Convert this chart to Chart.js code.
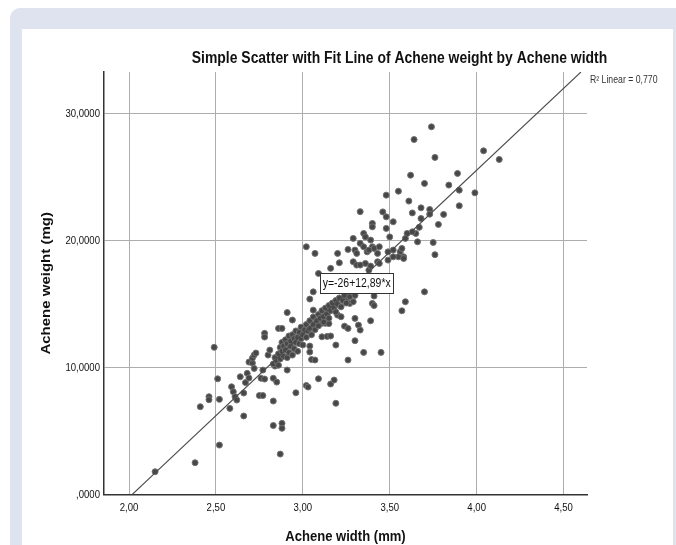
<!DOCTYPE html>
<html>
<head>
<meta charset="utf-8">
<script src="https://cdn.jsdelivr.net/npm/chart.js@4.4.1/dist/chart.umd.min.js"></script>
<style>
  html, body { margin: 0; padding: 0; background: #fff; }
  body { width: 676px; height: 545px; position: relative; overflow: hidden; }
  #frame { position: absolute; left: 10px; top: 8px; right: 0; bottom: 0; background: #dfe2ef; border-top-left-radius: 10px; }
  #panel { position: absolute; left: 22px; top: 29px; width: 651px; bottom: 0; background: #fff; }
  #chart { position: absolute; left: 0; top: 0; }
</style>
</head>
<body>
<div id="frame"></div>
<div id="panel"></div>
<canvas id="chart" width="676" height="545"></canvas>
<script>
// achene width (mm) and weight (mg)
const achWidth = [
  2.15, 2.38, 2.52, 2.41, 2.46, 2.46, 2.52, 2.51, 2.49, 2.58, 2.59, 2.60, 2.61, 2.62, 2.66, 2.66,
  2.64, 2.67, 2.68, 2.69, 2.69, 2.71, 2.71, 2.72, 2.73, 2.72, 2.77, 2.76, 2.78, 2.75, 2.77, 2.78,
  2.78, 2.80, 2.81, 2.83, 2.85, 2.83, 2.83, 2.88, 2.88, 2.87, 2.86, 2.88, 2.91, 2.84, 2.91, 2.96,
  3.02, 3.03, 3.09, 3.16, 3.18, 3.19, 3.26, 3.04, 3.04, 3.05, 3.07, 3.11, 3.14, 3.16, 3.19, 3.24,
  3.26, 3.30, 3.32, 3.33, 3.30, 3.35, 3.45, 3.39, 3.40, 3.41, 3.41, 3.57, 3.59, 3.70, 3.11, 3.13,
  3.15, 3.09, 3.06, 3.04, 3.02, 3.07, 3.20, 3.21, 3.16, 3.26, 3.33, 3.29, 3.35, 3.36, 3.39, 3.40,
  3.41, 3.44, 3.52, 3.56, 3.58, 3.40, 3.40, 3.46, 3.48, 3.52, 3.48, 3.50, 3.60, 3.59, 3.65, 3.66,
  3.75, 3.76, 3.48, 3.55, 3.61, 3.62, 3.64, 3.74, 3.76, 3.70, 3.84, 3.89, 3.90, 3.99, 4.04, 4.13,
  3.90, 3.68, 3.73, 3.73, 3.63, 3.81, 3.68, 3.78, 3.67, 3.33, 3.35, 3.37, 3.38, 3.43, 3.30, 3.31,
  3.29, 3.31, 3.36, 3.38, 3.43, 3.49, 3.55, 3.57, 3.63, 3.58, 3.20, 3.22, 2.94, 3.06, 3.25, 3.27,
  3.29, 3.33, 3.39, 3.44, 3.49, 3.52,
  2.83, 2.84, 2.85, 2.86, 2.86, 2.87, 2.87, 2.88, 2.88, 2.89, 2.89, 2.90, 2.90, 2.91, 2.91, 2.92,
  2.92, 2.93, 2.93, 2.94, 2.94, 2.95, 2.95, 2.96, 2.96, 2.97, 2.97, 2.98, 2.98, 2.99, 2.99, 3.00,
  3.00, 3.01, 3.02, 3.02, 3.03, 3.04, 3.04, 3.05, 3.06, 3.06, 3.07, 3.08, 3.09, 3.09, 3.10, 3.11,
  3.12, 3.12, 3.13, 3.14, 3.15, 3.15, 3.16, 3.17, 3.18, 3.19, 3.19, 3.20, 3.21, 3.22, 3.23, 3.24,
  3.25, 3.27, 3.28, 3.30, 3.32
];
const achWeight = [
  1.81, 2.52, 3.91, 6.93, 7.72, 7.48, 7.51, 9.13, 11.61, 6.80, 8.50, 8.11, 7.72, 7.46, 8.01, 6.20,
  9.29, 8.83, 9.56, 9.19, 10.45, 10.37, 10.76, 11.00, 11.16, 9.95, 9.82, 9.17, 9.11, 7.81, 7.81, 12.71,
  12.42, 11.00, 11.39, 9.17, 8.87, 7.38, 5.45, 5.62, 5.23, 3.20, 13.10, 13.10, 14.35, 10.13, 9.82, 8.03,
  8.60, 8.48, 9.13, 8.72, 9.03, 7.20, 10.61, 11.71, 11.24, 10.65, 10.61, 12.44, 12.47, 12.50, 11.79, 13.28,
  13.10, 13.89, 13.36, 12.97, 12.13, 11.21, 11.21, 13.70, 15.07, 14.90, 15.65, 14.49, 15.20, 15.98, 13.50, 13.50,
  13.48, 17.43, 15.98, 15.41, 19.53, 19.01, 19.01, 18.27, 17.83, 19.32, 22.30, 20.19, 20.58, 20.31, 20.06, 19.53,
  19.40, 19.53, 19.27, 19.13, 18.74, 21.37, 21.10, 22.28, 21.89, 21.50, 20.98, 20.31, 20.58, 20.19, 20.58, 19.92,
  19.87, 18.91, 23.60, 23.91, 23.13, 25.17, 27.98, 28.98, 26.57, 24.52, 24.39, 25.31, 23.99, 23.78, 27.09, 26.41,
  22.76, 22.60, 22.47, 22.10, 22.20, 22.08, 21.76, 21.29, 21.06, 19.80, 19.53, 19.13, 19.27, 19.01, 19.27, 19.01,
  18.35, 18.09, 18.22, 17.69, 18.35, 19.13, 18.74, 19.40, 20.71, 18.61, 14.15, 14.02, 13.76, 14.54, 15.33, 15.07,
  15.20, 18.09, 18.01, 18.22, 18.48, 18.74,
  10.3, 10.8, 10.5, 11.1, 10.2, 11.6, 10.7, 11.3, 12.0, 10.9, 11.7, 11.4, 12.2, 10.8, 11.9, 11.2,
  12.5, 11.7, 12.1, 11.0, 12.6, 11.5, 12.3, 12.0, 12.9, 11.3, 12.4, 12.8, 11.9, 12.3, 13.2, 12.6,
  11.8, 13.0, 12.4, 13.4, 12.9, 13.7, 13.1, 12.6, 13.4, 14.0, 13.0, 13.7, 14.2, 13.3, 13.9, 14.5,
  14.0, 13.6, 14.7, 14.2, 14.9, 13.9, 14.5, 15.1, 14.7, 15.3, 14.4, 15.0, 15.5, 14.8, 15.3, 15.7,
  15.1, 15.6, 16.0, 15.7, 16.2
];

// fit line y = -26 + 12,89*x, ends where it leaves the plot
const fitX = [2.017, 4.600];
const fitY = [0, 33.3];

const xTicks = [2, 2.5, 3, 3.5, 4, 4.5];
const xTickLabels = ["2,00", "2,50", "3,00", "3,50", "4,00", "4,50"];
const yTicks = [0, 10, 20, 30];
const yTickLabels = [",0000", "10,0000", "20,0000", "30,0000"];

const chartTitle = "Simple Scatter with Fit Line of Achene weight by Achene width";
const xTitle = "Achene width (mm)";
const yTitle = "Achene weight (mg)";
const rSquaredText = "R\u00b2 Linear = 0,770";
const equationText = "y=-26+12,89*x";
const equationAt = [3.31, 16.7];

// the original output is squeezed horizontally, text included
const squeeze = 0.87;
const family = '"Liberation Sans", Arial, sans-serif';

function drawText(ctx, text, x, y, font, align, rotate) {
  ctx.save();
  ctx.font = font;
  ctx.textAlign = align || "center";
  ctx.textBaseline = "middle";
  ctx.translate(x, y);
  ctx.scale(squeeze, 1);
  if (rotate) ctx.rotate(rotate);
  ctx.fillText(text, 0, 0);
  ctx.restore();
}

const points = achWidth.map((x, i) => ({ x, y: achWeight[i] }));
const fitPoints = fitX.map((x, i) => ({ x, y: fitY[i] }));

const labelsPlugin = {
  id: "labels",
  afterDraw(chart) {
    const { ctx, scales, chartArea } = chart;
    ctx.save();
    ctx.fillStyle = "#111";

    xTicks.forEach((v, i) => {
      drawText(ctx, xTickLabels[i], scales.x.getPixelForValue(v), chartArea.bottom + 13, `11px ${family}`, "center");
    });
    yTicks.forEach((v, i) => {
      drawText(ctx, yTickLabels[i], chartArea.left - 4, scales.y.getPixelForValue(v) + 0.5, `11px ${family}`, "right");
    });

    drawText(ctx, chartTitle, 399.5, 59, `bold 16px ${family}`, "center");
    drawText(ctx, xTitle, (chartArea.left + chartArea.right) / 2, 537, `bold 15px ${family}`, "center");
    drawText(ctx, yTitle, 46, (chartArea.top + chartArea.bottom) / 2, `bold 15px ${family}`, "center", -Math.PI / 2);

    ctx.fillStyle = "#333";
    drawText(ctx, rSquaredText, 590, 80, `10px ${family}`, "left");

    // equation box on the fit line
    const cx = scales.x.getPixelForValue(equationAt[0]);
    const cy = scales.y.getPixelForValue(equationAt[1]);
    ctx.font = `12px ${family}`;
    const bw = Math.round(ctx.measureText(equationText).width * squeeze + 5);
    const bh = 20;
    const bx = Math.round(cx - bw / 2) + 0.5;
    const by = Math.round(cy - bh / 2) + 0.5;
    ctx.fillStyle = "#fff";
    ctx.fillRect(bx, by, bw, bh);
    ctx.strokeStyle = "#333";
    ctx.lineWidth = 1;
    ctx.strokeRect(bx, by, bw, bh);
    ctx.fillStyle = "#111";
    drawText(ctx, equationText, cx, cy + 1, `12px ${family}`, "center");
    ctx.restore();
  },
};

new Chart(document.getElementById("chart"), {
  type: "scatter",
  data: {
    datasets: [
      {
        data: fitPoints,
        showLine: true,
        borderColor: "#4a4a4a",
        borderWidth: 1.1,
        pointRadius: 0,
        order: 0,
      },
      {
        data: points,
        pointRadius: 3,
        backgroundColor: "#474747",
        borderColor: "#727272",
        borderWidth: 1,
        order: 1,
      },
    ],
  },
  options: {
    responsive: false,
    animation: false,
    events: [],
    layout: { padding: { left: 37, top: 72, right: 89, bottom: 0 } },
    plugins: {
      legend: { display: false },
      tooltip: { enabled: false },
      title: { display: false },
    },
    scales: {
      x: {
        type: "linear",
        min: 1.856,
        max: 4.635,
        afterBuildTicks: (s) => { s.ticks = xTicks.map((v) => ({ value: v })); },
        afterFit: (s) => { s.height = 50.3; },
        ticks: { display: false },
        grid: { color: "#adadad", lineWidth: 1, drawTicks: false },
        border: { color: "#333", width: 1.5 },
      },
      y: {
        min: 0,
        max: 33.3,
        afterBuildTicks: (s) => { s.ticks = yTicks.map((v) => ({ value: v })); },
        afterFit: (s) => { s.width = 67; },
        ticks: { display: false },
        grid: { color: "#adadad", lineWidth: 1, drawTicks: false },
        border: { color: "#333", width: 1.5 },
      },
    },
  },
  plugins: [labelsPlugin],
});
</script>
</body>
</html>
